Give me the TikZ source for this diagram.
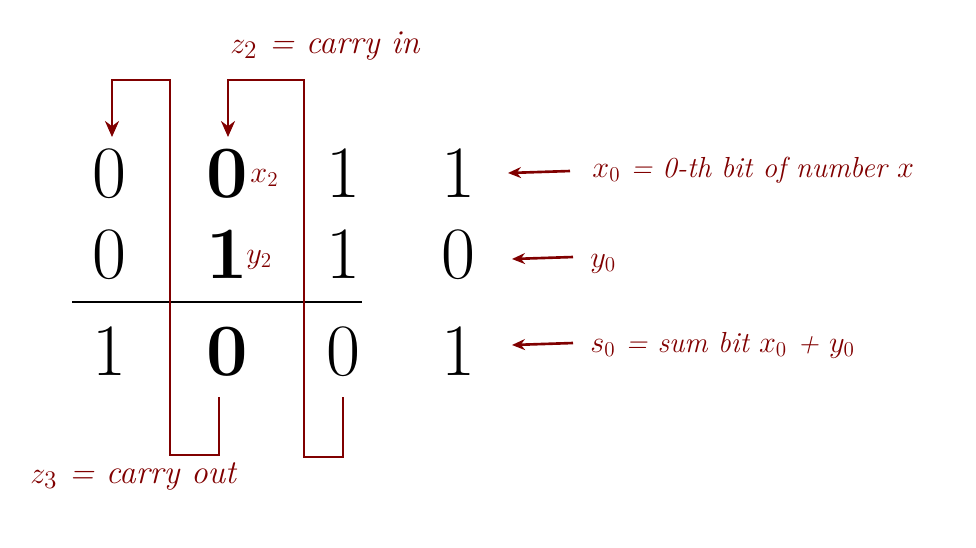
\documentclass[tikz,border=0pt]{standalone}
\usepackage{amsmath}
\usepackage{xcolor}
\usepackage{tikz}
\usetikzlibrary{arrows.meta, positioning, calc}
\definecolor{CarryRed}{RGB}{128,0,0}
\tikzset{
  >=latex,
  % cifre della somma
  digit/.style={inner sep=0pt,font=\fontsize{42}{46}\selectfont},
  digit bold/.style={digit,font=\fontsize{42}{46}\selectfont\bfseries},
  % etichette
  note/.style={inner sep=0pt,CarryRed,font=\fontsize{16.5}{20}\selectfont\itshape},
  note big/.style={note,font=\fontsize{19}{22}\selectfont\itshape},
  tag/.style={inner sep=0pt,CarryRed,font=\fontsize{17}{20}\selectfont\itshape},
  % linee del riporto
  carry/.style={CarryRed,line width=1.5pt},
  carry arrow/.style={carry,-{Stealth[length=3.2mm,width=2.8mm]}},
  pointer/.style={CarryRed,line width=1.5pt,-{Stealth[length=2.6mm,width=2.2mm]}}
}

\begin{document}
\begin{tikzpicture}[x=0.2mm,y=-0.2mm]
    \useasboundingbox (0,0) rectangle (976,547);
    % operands
    \node[digit,anchor=base] (x3) at (109,197) {0};
    \node[digit bold,anchor=base] (x2) at (227,197) {0};
    \node[digit,anchor=base] (x1) at (343,197) {1};
    \node[digit,anchor=base] (x0) at (458,197) {1};
    \node[digit,anchor=base] (y3) at (109,278) {0};
    \node[digit bold,anchor=base] (y2) at (227,278) {1};
    \node[digit,anchor=base] (y1) at (343,278) {1};
    \node[digit,anchor=base] (y0) at (458,278) {0};
    \draw[line width=1.3pt](72,302)--(362,302);
    % sum
    \node[digit,anchor=base] (s3) at (109,375) {1};
    \node[digit bold,anchor=base] (s2) at (227,375) {0};
    \node[digit,anchor=base] (s1) at (343,375) {0};
    \node[digit,anchor=base] (s0) at (458,375) {1};
    \node[tag,anchor=base west] (tx2) at (250,182) {$x_2$};
    \node[tag,anchor=base west] (ty2) at (246,263) {$y_2$};
    % carries
    \coordinate (out2) at (219,397);
    \coordinate (low2) at (170,455);
    \coordinate (high3) at (170,80);
    \coordinate (in3) at (112,137);
    \coordinate (out1) at (343,397);
    \coordinate (low1) at (304,457);
    \coordinate (high2) at (304,80);
    \coordinate (in2) at (228,137);
    \draw[carry arrow](out2)|-(low2)--(high3)-|(in3);
    \draw[carry arrow](out1)|-(low1)--(high2)-|(in2);
    \node[note big,anchor=base west] (cin) at (230,53) {$z_2$ = carry in};
    \node[note big,anchor=base west] (cout) at (30,483) {$z_3$ = carry out};
    % right notes
    \node[note,anchor=base west] (lx0) at (592,177) {$x_0$ = 0-th bit of number $x$};
    \node[note,anchor=base west] (ly0) at (590,267) {$y_0$};
    \node[note,anchor=base west] (ls0) at (590,352) {$s_0$ = sum bit $x_0$ + $y_0$};
    \coordinate (qx0) at (570,171);
    \coordinate (qy0) at (573,257);
    \coordinate (qs0) at (573,343);
    \coordinate (px0) at (508,173);
    \coordinate (py0) at (512,259);
    \coordinate (ps0) at (512,345);
    \draw[pointer](qx0)--(px0);
    \draw[pointer](qy0)--(py0);
    \draw[pointer](qs0)--(ps0);
  \end{tikzpicture}
\end{document}
